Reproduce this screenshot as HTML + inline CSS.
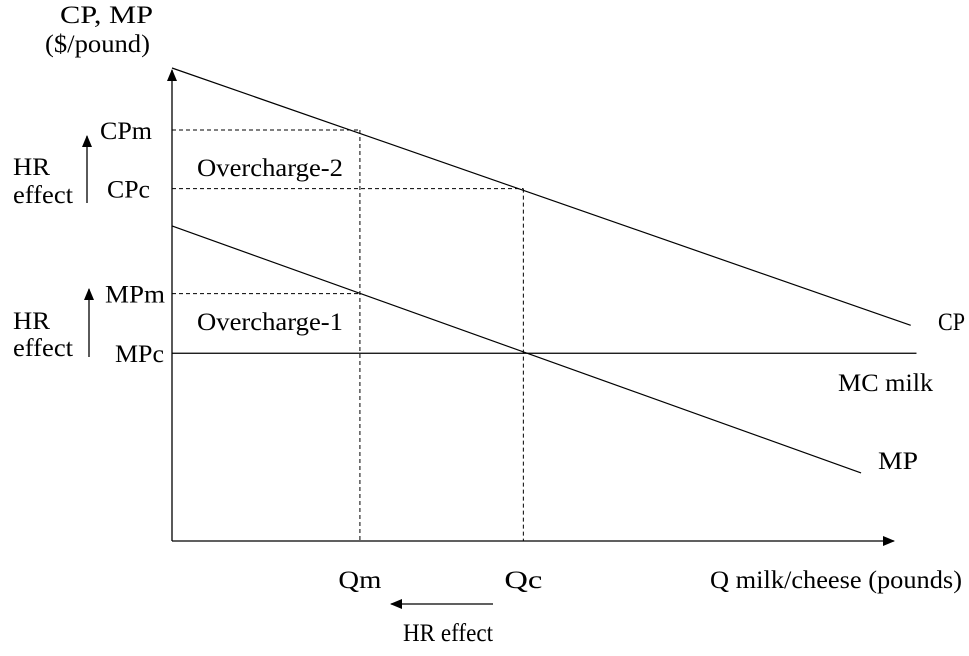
<!DOCTYPE html>
<html><head><meta charset="utf-8"><style>
body{margin:0;background:#fff;}
svg text{font-family:"Liberation Serif",serif;font-size:25px;fill:#000;}
</style></head><body>
<svg id="c" width="969" height="651" xmlns="http://www.w3.org/2000/svg">
<defs><marker id="ah" markerWidth="12" markerHeight="12" refX="11" refY="6" orient="auto" markerUnits="userSpaceOnUse"><path d="M0,1 L12,6 L0,11 z" fill="#000"/></marker></defs>
<g id="g"></g>
</svg>
<script>
// data-space: quantity 0..100, price 0..100
const lineNames=["CP","MP","MC milk"];
const lineStartQ=[0,0,0];
const lineStartP=[100,66.6,39.7];
const lineEndQ=[102.6,95.7,103.4];
const lineEndP=[45.6,14.4,39.7];
const qLevels=["Qm","Qc"];
const qValues=[26.1,48.8];
const priceLabels=["CPm","CPc","MPm","MPc"];
const priceValues=[86.9,74.5,52.3,39.7];
const priceQ=[26.1,48.8,26.1,48.8];

const X0=172,XS=7.2;
function x(q){return X0+q*XS;}
function yy(p){return 541-p*4.73;}
const g=document.getElementById('g');
const NS="http://www.w3.org/2000/svg";
function el(t,a){const e=document.createElementNS(NS,t);for(const k in a)e.setAttribute(k,a[k]);g.appendChild(e);return e;}
function txt(s,xx,yv,w){const e=el('text',{x:xx,y:yv,textLength:w,lengthAdjust:'spacingAndGlyphs'});e.textContent=s;return e;}

let a=el('line',{x1:X0,y1:541,x2:X0,y2:70,stroke:'#000','stroke-width':1.3,'marker-end':'url(#ah)'});


a=el('line',{x1:X0,y1:541,x2:894,y2:541,stroke:'#000','stroke-width':1.3,'marker-end':'url(#ah)'});



for(let i=0;i<lineNames.length;i++){
  const l=el('line',{x1:x(lineStartQ[i]),y1:yy(lineStartP[i]),x2:x(lineEndQ[i]),y2:yy(lineEndP[i]),stroke:'#000','stroke-width':1.2});
  
  
}
const priceLabelX=[100,107,105,115];
const priceLabelW=[52,43,60,49];
for(let i=0;i<priceLabels.length;i++){
  if(priceLabels[i]!=="MPc"){
    const d=el('line',{x1:X0,y1:yy(priceValues[i]),x2:x(priceQ[i]),y2:yy(priceValues[i]),stroke:'#000','stroke-width':1,'stroke-dasharray':'4,3'});
    
    
  }
  const t=txt(priceLabels[i],priceLabelX[i],yy(priceValues[i])+9,priceLabelW[i]);
  
  
}
const qLabelW=[43,38];
for(let i=0;i<qLevels.length;i++){
  const top=i===0?priceValues[0]:priceValues[1];
  const d=el('line',{x1:x(qValues[i]),y1:yy(top),x2:x(qValues[i]),y2:541,stroke:'#000','stroke-width':1,'stroke-dasharray':'4,3'});
  
  
  const t=txt(qLevels[i],x(qValues[i])-qLabelW[i]/2,588,qLabelW[i]);
  
  
}
const labels=[["CP, MP",60,23,93,"y-axis-title"],["($/pound)",45,52,105,"y-axis-unit"],
["Q milk/cheese (pounds)",710,588,252,"x-axis-title"],["CP",938,330,27,"cp-label"],
["MC milk",838,391,95,"mc-milk-label"],["MP",878,469,40,"mp-label"],
["Overcharge-2",197,176,146,"overcharge-2-label"],["Overcharge-1",197,330,146,"overcharge-1-label"],
["HR",13,175,37,"hr-label-1"],["effect",13,203,60,"effect-label-1"],
["HR",13,329,37,"hr-label-2"],["effect",13,356,60,"effect-label-2"],
["HR effect",403,641,90,"hr-effect-label-3"]];
for(const L of labels){const t=txt(L[0],L[1],L[2],L[3]);}
a=el('line',{x1:87,y1:203,x2:87,y2:136,stroke:'#000','stroke-width':1.3,'marker-end':'url(#ah)'});


a=el('line',{x1:89,y1:357,x2:89,y2:289,stroke:'#000','stroke-width':1.3,'marker-end':'url(#ah)'});


a=el('line',{x1:493,y1:604,x2:391,y2:604,stroke:'#000','stroke-width':1.3,'marker-end':'url(#ah)'});


</script>
</body></html>
